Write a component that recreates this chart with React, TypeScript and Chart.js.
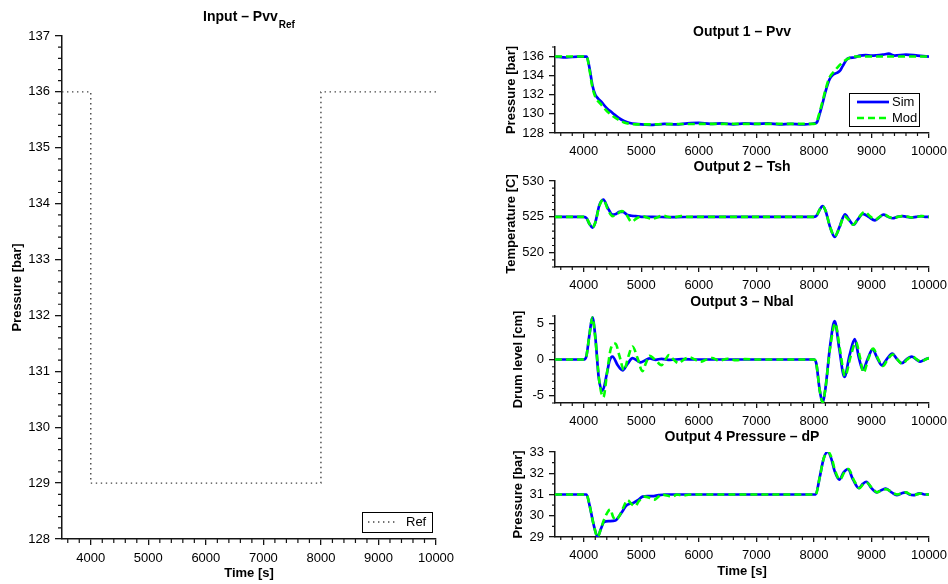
import React, { useEffect, useRef } from 'react';
import { Chart, registerables } from 'chart.js';

Chart.register(...registerables);

const FONT = "'Liberation Sans', Arial, Helvetica, sans-serif";
const AXIS = '#151515';
const BLUE = '#0000ff';
const GREEN = '#00ff00';

// ---------- axis ticks ----------
const X_MIN = 3500;
const X_MAX = 10000;
const X_TICKS = [4000, 5000, 6000, 7000, 8000, 9000, 10000];
const REF_Y_TICKS = [128, 129, 130, 131, 132, 133, 134, 135, 136, 137];
const PVV_Y_TICKS = [128, 130, 132, 134, 136];
const TSH_Y_TICKS = [520, 525, 530];
const NBAL_Y_TICKS = [-5, 0, 5];
const DP_Y_TICKS = [29, 30, 31, 32, 33];

// ---------- Input: reference ----------
const REF_T = [3500, 4000, 4000, 8000, 8000, 10000];
const REF_V = [136, 136, 129, 129, 136, 136];

// ---------- Output 1: Pvv ----------
const PVV_SIM_T = [3500, 3700, 3900, 4050, 4100, 4150, 4200, 4250, 4300, 4400, 4500, 4600, 4700, 4800, 4900, 5000, 5200, 5400, 5600, 5800, 6000, 6200, 6400, 6600, 6800, 7000, 7200, 7400, 7600, 7800, 8000, 8050, 8100, 8150, 8200, 8270, 8330, 8400, 8450, 8500, 8590, 8700, 8800, 8900, 9000, 9200, 9300, 9400, 9600, 9800, 10000];
const PVV_SIM_V = [136.0, 135.9, 136.0, 136.0, 134.8, 133.0, 132.0, 131.6, 131.3, 130.6, 130.1, 129.6, 129.25, 129.05, 128.95, 128.9, 128.85, 128.95, 128.9, 129.0, 129.05, 128.95, 129.0, 128.9, 129.0, 128.95, 129.0, 128.9, 128.95, 128.9, 129.0, 129.1, 130.0, 131.1, 132.3, 133.6, 134.1, 134.3, 134.5, 135.0, 135.8, 135.9, 136.1, 136.15, 136.1, 136.2, 136.3, 136.1, 136.2, 136.1, 136.0];
const PVV_MOD_T = [3500, 4050, 4100, 4150, 4200, 4300, 4400, 4500, 4600, 4700, 4800, 5000, 6000, 7000, 8000, 8050, 8100, 8150, 8200, 8270, 8330, 8400, 8500, 8600, 8700, 9000, 10000];
const PVV_MOD_V = [136.0, 136.0, 134.6, 132.8, 131.8, 131.0, 130.3, 129.8, 129.4, 129.1, 128.95, 128.9, 128.95, 128.95, 128.95, 129.2, 130.2, 131.3, 132.5, 133.8, 134.3, 134.8, 135.4, 135.8, 136.0, 136.0, 136.0];

// ---------- Output 2: Tsh ----------
const TSH_SIM_T = [3500, 4000, 4050, 4100, 4150, 4200, 4270, 4340, 4420, 4500, 4560, 4620, 4680, 4750, 4830, 4900, 5000, 5200, 5500, 6000, 7000, 8000, 8050, 8100, 8150, 8200, 8280, 8360, 8440, 8540, 8610, 8690, 8760, 8850, 8950, 9060, 9130, 9210, 9290, 9370, 9450, 9540, 9620, 9690, 9780, 9860, 9930, 10000];
const TSH_SIM_V = [525, 525, 524.8, 524.0, 523.5, 524.2, 526.6, 527.4, 526.2, 525.3, 525.4, 525.7, 525.7, 525.3, 525.15, 525.1, 525.0, 525.0, 524.95, 525.0, 525.0, 525.0, 525.2, 526.0, 526.5, 525.9, 523.6, 522.2, 523.5, 525.35, 524.6, 523.9, 524.6, 525.4, 525.0, 524.5, 524.9, 525.3, 525.0, 524.8, 525.0, 525.1, 525.0, 524.9, 525.0, 525.1, 525.0, 525.0];
const TSH_MOD_T = [3500, 4000, 4050, 4100, 4150, 4200, 4270, 4340, 4420, 4500, 4580, 4660, 4740, 4830, 4920, 5020, 5100, 5180, 5270, 5370, 5460, 5540, 5620, 5690, 5800, 6000, 7000, 8000, 8050, 8100, 8150, 8200, 8280, 8360, 8440, 8530, 8600, 8680, 8780, 8880, 8970, 9070, 9140, 9230, 9300, 9380, 9460, 9550, 9640, 9710, 9800, 9880, 10000];
const TSH_MOD_V = [525, 525, 524.8, 524.0, 523.5, 524.2, 526.5, 527.4, 526.0, 525.1, 525.4, 525.8, 525.3, 524.3, 524.8, 525.1, 524.9, 524.7, 524.9, 525.2, 525.0, 524.9, 525.0, 525.1, 525.0, 525.0, 525.0, 525.0, 525.2, 526.0, 526.5, 525.9, 523.6, 522.3, 523.4, 525.1, 524.6, 523.9, 524.9, 525.7, 525.1, 524.6, 525.0, 525.3, 525.0, 524.8, 525.0, 525.1, 525.0, 524.9, 525.0, 525.1, 525.0];

// ---------- Output 3: Nbal ----------
const NBAL_SIM_T = [3500, 4000, 4040, 4100, 4150, 4200, 4260, 4326, 4400, 4450, 4500, 4590, 4675, 4760, 4848, 4920, 4990, 5070, 5150, 5250, 5350, 5500, 5700, 6000, 7000, 8000, 8040, 8100, 8150, 8200, 8280, 8360, 8440, 8530, 8620, 8710, 8780, 8850, 8940, 9020, 9100, 9180, 9270, 9360, 9440, 9530, 9620, 9700, 9780, 9850, 9930, 10000];
const NBAL_SIM_V = [0, 0, 0.3, 3.5, 5.8, 3.2, -2.5, -4.3, -2.0, -0.1, 0.4, -0.8, -1.5, -0.6, 0.2, -0.1, -0.4, -0.1, 0.15, -0.05, 0.1, -0.05, 0.05, 0, 0, 0, -0.5, -4.2, -5.9, -4.0, 1.8, 5.3, 1.5, -2.4, 0.6, 2.8, 0.3, -1.4, 0.2, 1.4, 0.2, -0.8, 0.1, 0.8, 0.1, -0.5, 0.1, 0.4, 0.0, -0.3, 0.0, 0.2];
const NBAL_MOD_T = [3500, 4000, 4040, 4100, 4150, 4200, 4270, 4340, 4410, 4470, 4550, 4620, 4700, 4770, 4848, 4930, 5020, 5080, 5140, 5250, 5350, 5420, 5480, 5560, 5650, 5740, 5840, 5930, 6030, 6130, 6230, 6350, 6500, 6650, 6800, 7000, 8000, 8040, 8100, 8150, 8200, 8280, 8370, 8450, 8540, 8640, 8730, 8800, 8860, 8950, 9030, 9110, 9200, 9280, 9370, 9450, 9540, 9620, 9710, 9790, 9860, 9940, 10000];
const NBAL_MOD_V = [0, 0, 0.3, 3.5, 5.8, 3.0, -3.0, -5.2, -1.5, 1.5, 2.2, 0.5, -1.5, 0.3, 1.8, 0.3, -1.6, -0.5, 0.5, -0.1, -0.8, 0.0, 0.6, 0.0, -0.5, 0.0, 0.3, 0.0, -0.3, 0.0, 0.2, -0.15, 0.1, -0.1, 0.05, 0, 0, -0.5, -4.2, -5.9, -4.0, 1.5, 5.0, 1.5, -2.3, 0.5, 2.4, 0.3, -1.8, 0.2, 1.5, 0.2, -0.9, 0.0, 0.7, 0.0, -0.6, 0.0, 0.4, 0.0, -0.3, 0.0, 0.2];

// ---------- Output 4: dP ----------
const DP_SIM_T = [3500, 4000, 4047, 4100, 4170, 4240, 4300, 4350, 4440, 4550, 4620, 4670, 4730, 4785, 4860, 4950, 5020, 5100, 5190, 5300, 5420, 6000, 7000, 8000, 8030, 8100, 8170, 8240, 8300, 8360, 8440, 8520, 8590, 8680, 8780, 8850, 8910, 9000, 9090, 9170, 9250, 9350, 9440, 9520, 9590, 9660, 9730, 9800, 9840, 9920, 10000];
const DP_SIM_V = [31, 31, 31.0, 30.5, 29.6, 29.02, 29.4, 29.7, 29.75, 29.78, 30.0, 30.2, 30.45, 30.55, 30.6, 30.75, 30.9, 30.92, 30.92, 30.97, 31.0, 31.0, 31.0, 31.0, 31.0, 31.8, 32.7, 33.0, 32.7, 32.1, 31.7, 32.05, 32.2, 31.7, 31.3, 31.5, 31.6, 31.3, 31.1, 31.2, 31.28, 31.1, 30.97, 31.05, 31.1, 31.0, 30.97, 31.03, 31.06, 31.0, 31.0];
const DP_MOD_T = [3500, 4047, 4100, 4170, 4240, 4300, 4350, 4410, 4460, 4510, 4560, 4620, 4690, 4760, 4830, 4890, 4960, 5050, 5140, 5220, 5300, 5360, 5450, 5540, 5620, 5720, 5850, 6000, 8000, 8030, 8100, 8170, 8250, 8310, 8370, 8450, 8530, 8600, 8690, 8790, 8860, 8920, 9010, 9100, 9180, 9260, 9360, 9450, 9530, 9600, 9680, 9750, 9820, 9870, 9940, 10000];
const DP_MOD_V = [31, 31, 30.5, 29.6, 29.0, 29.4, 29.8, 30.15, 30.3, 29.95, 29.8, 30.0, 30.4, 30.74, 30.55, 30.45, 30.7, 30.9, 30.85, 30.75, 30.9, 31.0, 30.95, 30.9, 31.0, 30.95, 31.0, 31.0, 31.0, 31.0, 31.8, 32.7, 33.0, 32.7, 32.1, 31.7, 32.05, 32.2, 31.7, 31.3, 31.5, 31.55, 31.3, 31.1, 31.2, 31.25, 31.1, 31.0, 31.05, 31.1, 31.0, 30.98, 31.03, 31.05, 31.0, 31.0];

// ---------- helpers ----------
const pts = (t: number[], v: number[]) => t.map((x, i) => ({ x, y: v[i] }));
const range = (a: number, b: number, s: number) => {
  const r: number[] = [];
  for (let v = a; v <= b + 1e-9; v += s) r.push(Math.round(v * 1000) / 1000);
  return r;
};

const simDs = (t: number[], v: number[]) => ({
  label: 'Sim', data: pts(t, v), borderColor: BLUE, backgroundColor: BLUE, borderWidth: 2.7,
  pointRadius: 0, cubicInterpolationMode: 'monotone', fill: false, order: 1,
});
const modDs = (t: number[], v: number[]) => ({
  label: 'Mod', data: pts(t, v), borderColor: GREEN, backgroundColor: GREEN, borderWidth: 2.6,
  borderDash: [7, 4], pointRadius: 0, cubicInterpolationMode: 'monotone', fill: false, order: 0,
});

const decorPlugin = {
  id: 'decor',
  afterDraw(chart: any, _args: any, o: any) {
    const { ctx, chartArea: a } = chart;
    const xs = chart.scales.x;
    const ys = chart.scales.y;
    ctx.save();
    // minor ticks
    ctx.strokeStyle = AXIS;
    ctx.lineWidth = 1.2;
    ctx.setLineDash([]);
    ctx.beginPath();
    for (const v of o.minorX) {
      if (X_TICKS.some((t) => Math.abs(t - v) < 1e-6)) continue;
      const p = xs.getPixelForValue(v);
      ctx.moveTo(p, a.bottom);
      ctx.lineTo(p, a.bottom + o.minorLen);
    }
    for (const v of o.minorY) {
      if (o.majorY.some((t: number) => Math.abs(t - v) < 1e-6)) continue;
      const p = ys.getPixelForValue(v);
      ctx.moveTo(a.left, p);
      ctx.lineTo(a.left - o.minorLen, p);
    }
    ctx.stroke();

    // title
    ctx.fillStyle = '#000';
    ctx.textBaseline = 'middle';
    ctx.textAlign = 'left';
    const cx = (a.left + a.right) / 2;
    const cy = a.top - o.titleGap;
    ctx.font = `bold 14px ${FONT}`;
    const w1 = ctx.measureText(o.title).width;
    let w2 = 0;
    if (o.sub) {
      ctx.font = `bold 10px ${FONT}`;
      w2 = ctx.measureText(o.sub).width + 1;
    }
    const x0 = cx - (w1 + w2) / 2;
    ctx.font = `bold 14px ${FONT}`;
    ctx.fillText(o.title, x0, cy);
    if (o.sub) {
      ctx.font = `bold 10px ${FONT}`;
      ctx.fillText(o.sub, x0 + w1 + 1, cy + 8);
    }

    // legend
    const L = o.legend;
    if (L) {
      const bx = a.right - L.rOff - L.w;
      const by = a.bottom - L.bOff - L.h;
      ctx.fillStyle = '#fff';
      ctx.fillRect(bx, by, L.w, L.h);
      ctx.strokeStyle = '#000';
      ctx.lineWidth = 1;
      ctx.setLineDash([]);
      ctx.strokeRect(Math.round(bx) + 0.5, Math.round(by) + 0.5, L.w, L.h);
      const dsets = chart.data.datasets;
      dsets.forEach((d: any, i: number) => {
        const yy = by + L.row0 + i * L.rowH;
        ctx.strokeStyle = d.borderColor;
        ctx.lineWidth = d.borderWidth;
        ctx.setLineDash(d.borderDash || []);
        ctx.beginPath();
        ctx.moveTo(bx + L.lx0, yy);
        ctx.lineTo(bx + L.lx1, yy);
        ctx.stroke();
        ctx.setLineDash([]);
        ctx.fillStyle = '#000';
        ctx.font = `13px ${FONT}`;
        ctx.textBaseline = 'middle';
        ctx.fillText(d.label, bx + L.tx, yy);
      });
    }
    ctx.restore();
  },
};

type Spec = {
  area: { l: number; t: number; r: number; b: number };
  yW: number;
  xH: number;
  yMin: number;
  yMax: number;
  yTicks: number[];
  yTitle: string;
  yTitleX: number;
  xTitle?: string;
  majorLenX: number;
  majorLenY: number;
  minorLen: number;
  minorX: number[];
  minorY: number[];
  title: string;
  sub?: string;
  titleGap: number;
  legend?: any;
  datasets: any[];
};

const W = 948;
const H = 584;

function buildConfig(s: Spec): any {
  const lh = 13 * 1.2;
  const yScaleLeft = s.area.l - s.yW;
  return {
    type: 'line',
    data: { datasets: s.datasets },
    options: {
      animation: false,
      responsive: false,
      maintainAspectRatio: false,
      events: [],
      layout: {
        padding: {
          left: s.area.l - s.yW,
          top: s.area.t,
          right: W - s.area.r,
          bottom: H - s.area.b - s.xH,
        },
      },
      plugins: {
        legend: { display: false },
        tooltip: { enabled: false },
        title: { display: false },
        decor: {
          minorX: s.minorX, minorY: s.minorY, majorY: s.yTicks, minorLen: s.minorLen,
          title: s.title, sub: s.sub, titleGap: s.titleGap, legend: s.legend,
        },
      },
      scales: {
        x: {
          type: 'linear',
          min: X_MIN,
          max: X_MAX,
          afterBuildTicks: (sc: any) => { sc.ticks = X_TICKS.map((v) => ({ value: v })); },
          afterFit: (sc: any) => { sc.height = s.xH; sc.paddingLeft = 0; sc.paddingRight = 0; },
          grid: { display: true, drawOnChartArea: false, drawTicks: true, tickLength: s.majorLenX, color: AXIS, lineWidth: 1.3 },
          border: { display: true, color: AXIS, width: 1.5 },
          ticks: {
            padding: 6, autoSkip: false, maxRotation: 0, minRotation: 0, color: '#000',
            font: { family: FONT, size: 13 },
            callback: (v: any) => String(v),
          },
          title: {
            display: !!s.xTitle, text: s.xTitle || '', color: '#000',
            font: { family: FONT, size: 13, weight: 'bold' }, padding: { top: 0, bottom: 3 },
          },
        },
        y: {
          type: 'linear',
          min: s.yMin,
          max: s.yMax,
          afterBuildTicks: (sc: any) => { sc.ticks = s.yTicks.map((v) => ({ value: v })); },
          afterFit: (sc: any) => { sc.width = s.yW; sc.paddingTop = 0; sc.paddingBottom = 0; },
          grid: { display: true, drawOnChartArea: false, drawTicks: true, tickLength: s.majorLenY, color: AXIS, lineWidth: 1.3 },
          border: { display: true, color: AXIS, width: 1.5 },
          ticks: {
            padding: 5, autoSkip: false, color: '#000',
            font: { family: FONT, size: 13 },
            callback: (v: any) => String(v),
          },
          title: {
            display: true, text: s.yTitle, color: '#000',
            font: { family: FONT, size: 13, weight: 'bold' },
            padding: { top: s.yTitleX - yScaleLeft - lh / 2, bottom: 0 },
          },
        },
      },
    },
    plugins: [decorPlugin],
  };
}

const RIGHT_L = 555;
const RIGHT_R = 929;

const SPECS: Spec[] = [
  {
    area: { l: 62, t: 36, r: 436, b: 539 }, yW: 60, xH: 45,
    yMin: 128, yMax: 137, yTicks: REF_Y_TICKS, yTitle: 'Pressure [bar]', yTitleX: 17, xTitle: 'Time [s]',
    majorLenX: 6, majorLenY: 7, minorLen: 4,
    minorX: range(3600, 10000, 200), minorY: range(128, 137, 0.2),
    title: 'Input – Pvv', sub: 'Ref', titleGap: 19,
    legend: { w: 70, h: 20, rOff: 4, bOff: 7, row0: 10, rowH: 16, lx0: 6, lx1: 36, tx: 44 },
    datasets: [{
      label: 'Ref', data: pts(REF_T, REF_V), borderColor: '#444', borderWidth: 1.4,
      borderDash: [1.4, 3.6], pointRadius: 0, tension: 0, fill: false,
    }],
  },
  {
    area: { l: RIGHT_L, t: 47, r: RIGHT_R, b: 133 }, yW: 60, xH: 45,
    yMin: 128, yMax: 137, yTicks: PVV_Y_TICKS, yTitle: 'Pressure [bar]', yTitleX: 511,
    majorLenX: 5, majorLenY: 6, minorLen: 3,
    minorX: range(3600, 10000, 200), minorY: range(128, 137, 1),
    title: 'Output 1 – Pvv', titleGap: 15,
    legend: { w: 70, h: 33, rOff: 10, bOff: 7, row0: 9, rowH: 16, lx0: 8, lx1: 40, tx: 43 },
    datasets: [simDs(PVV_SIM_T, PVV_SIM_V), modDs(PVV_MOD_T, PVV_MOD_V)],
  },
  {
    area: { l: RIGHT_L, t: 181, r: RIGHT_R, b: 267 }, yW: 60, xH: 45,
    yMin: 518, yMax: 530, yTicks: TSH_Y_TICKS, yTitle: 'Temperature [C]', yTitleX: 511,
    majorLenX: 5, majorLenY: 6, minorLen: 3,
    minorX: range(3600, 10000, 200), minorY: range(518, 530, 1),
    title: 'Output 2 – Tsh', titleGap: 14,
    datasets: [simDs(TSH_SIM_T, TSH_SIM_V), modDs(TSH_MOD_T, TSH_MOD_V)],
  },
  {
    area: { l: RIGHT_L, t: 316, r: RIGHT_R, b: 403 }, yW: 60, xH: 45,
    yMin: -6, yMax: 6, yTicks: NBAL_Y_TICKS, yTitle: 'Drum level [cm]', yTitleX: 518,
    majorLenX: 5, majorLenY: 6, minorLen: 3,
    minorX: range(3600, 10000, 200), minorY: range(-6, 6, 1),
    title: 'Output 3 – Nbal', titleGap: 14,
    datasets: [simDs(NBAL_SIM_T, NBAL_SIM_V), modDs(NBAL_MOD_T, NBAL_MOD_V)],
  },
  {
    area: { l: RIGHT_L, t: 452, r: RIGHT_R, b: 537 }, yW: 60, xH: 45,
    yMin: 29, yMax: 33, yTicks: DP_Y_TICKS, yTitle: 'Pressure [bar]', yTitleX: 518, xTitle: 'Time [s]',
    majorLenX: 5, majorLenY: 6, minorLen: 3,
    minorX: range(3600, 10000, 200), minorY: range(29, 33, 0.5),
    title: 'Output 4 Pressure – dP', titleGap: 15,
    datasets: [simDs(DP_SIM_T, DP_SIM_V), modDs(DP_MOD_T, DP_MOD_V)],
  },
];

function ChartLayer({ spec }: { spec: Spec }) {
  const ref = useRef<HTMLCanvasElement>(null);
  useEffect(() => {
    if (!ref.current) return;
    const chart = new Chart(ref.current, buildConfig(spec));
    return () => chart.destroy();
  }, [spec]);
  return (
    <canvas
      ref={ref}
      width={W}
      height={H}
      style={{ position: 'absolute', left: 0, top: 0, width: W, height: H }}
    />
  );
}

export default function App() {
  return (
    <div style={{ position: 'fixed', left: 0, top: 0, width: W, height: H, background: '#fff', overflow: 'hidden' }}>
      {SPECS.map((s, i) => (
        <ChartLayer key={i} spec={s} />
      ))}
    </div>
  );
}
